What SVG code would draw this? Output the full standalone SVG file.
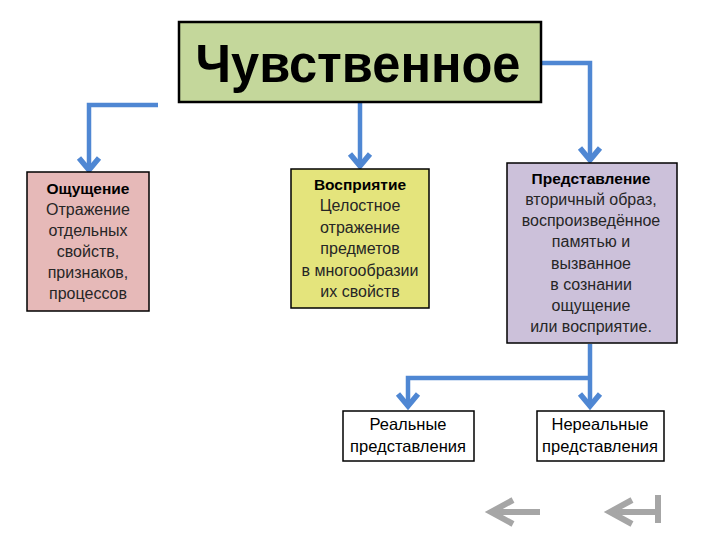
<svg xmlns="http://www.w3.org/2000/svg" width="720" height="540" viewBox="0 0 720 540">
<defs>
<style>
.box{stroke:#000;stroke-width:1.5}
.t{font-family:"Liberation Sans",Arial,sans-serif;font-size:16px;fill:#262626;text-anchor:middle}
.b{font-weight:bold;fill:#000;font-size:15.5px}
.s{font-size:16.5px;fill:#000}
.conn{fill:none;stroke:#4f87d3;stroke-width:4.5}
.nav{fill:none;stroke:#a6a6a6;stroke-width:6}
</style>
<marker id="ah" markerUnits="userSpaceOnUse" markerWidth="30" markerHeight="30" refX="0" refY="0" orient="auto" overflow="visible" viewBox="-20 -15 30 30">
<path d="M-13,-10 L-1,0 L-13,10" fill="none" stroke="#4f87d3" stroke-width="5.5"/>
</marker>
</defs>
<rect width="720" height="540" fill="#fff"/>
<g id="connectors">
<polyline class="conn" points="158,105 89,105 89,171" marker-end="url(#ah)"/>
<polyline class="conn" points="360,103 360,167" marker-end="url(#ah)"/>
<polyline class="conn" points="542,63 590,63 590,161" marker-end="url(#ah)"/>
<polyline class="conn" points="590,344 590,407" marker-end="url(#ah)"/>
<polyline class="conn" points="590,378 408,378 408,407" marker-end="url(#ah)"/>
</g>
<g id="title">
<rect x="179" y="22" width="362" height="80" fill="#c4d79b" stroke="#000" stroke-width="2.5"/>
<text x="358" y="82" font-family="Liberation Sans,Arial,sans-serif" font-weight="bold" font-size="54" fill="#000" text-anchor="middle" textLength="325" lengthAdjust="spacingAndGlyphs">Чувственное</text>
</g>
<g id="oshchushchenie">
<rect class="box" x="27" y="172" width="122" height="139" fill="#e6b9b8"/>
<text class="t b" x="88" y="194">Ощущение</text>
<text class="t" x="88" y="215">Отражение</text>
<text class="t" x="88" y="236">отдельных</text>
<text class="t" x="88" y="257">свойств,</text>
<text class="t" x="88" y="278">признаков,</text>
<text class="t" x="88" y="299">процессов</text>
</g>
<g id="vospriyatie">
<rect class="box" x="291" y="169" width="138" height="139" fill="#e4e47c"/>
<text class="t b" x="360" y="190">Восприятие</text>
<text class="t" x="360" y="211">Целостное</text>
<text class="t" x="360" y="233">отражение</text>
<text class="t" x="360" y="254">предметов</text>
<text class="t" x="360" y="276">в многообразии</text>
<text class="t" x="360" y="297">их свойств</text>
</g>
<g id="predstavlenie">
<rect class="box" x="507" y="163" width="170" height="180" fill="#ccc1da"/>
<text class="t b" x="591" y="184">Представление</text>
<text class="t" x="591" y="205">вторичный образ,</text>
<text class="t" x="591" y="226">воспроизведённое</text>
<text class="t" x="591" y="247">памятью и</text>
<text class="t" x="591" y="269">вызванное</text>
<text class="t" x="591" y="290">в сознании</text>
<text class="t" x="591" y="311">ощущение</text>
<text class="t" x="591" y="332">или восприятие.</text>
</g>
<g id="realnye">
<rect class="box" x="343" y="411" width="131" height="50" fill="#fff"/>
<text class="t s" x="408" y="430">Реальные</text>
<text class="t s" x="408" y="452">представления</text>
</g>
<g id="nerealnye">
<rect class="box" x="537" y="411" width="127" height="50" fill="#fff"/>
<text class="t s" x="600" y="430">Нереальные</text>
<text class="t s" x="600" y="452">представления</text>
</g>
<g id="nav">
<line class="nav" x1="492" y1="512" x2="540" y2="512"/>
<polyline class="nav" points="513,500 491,512 513,524"/>
<line class="nav" x1="610" y1="512" x2="657" y2="512"/>
<polyline class="nav" points="632,500 610,512 632,524"/>
<line class="nav" x1="658" y1="495" x2="658" y2="523"/>
</g>
</svg>
